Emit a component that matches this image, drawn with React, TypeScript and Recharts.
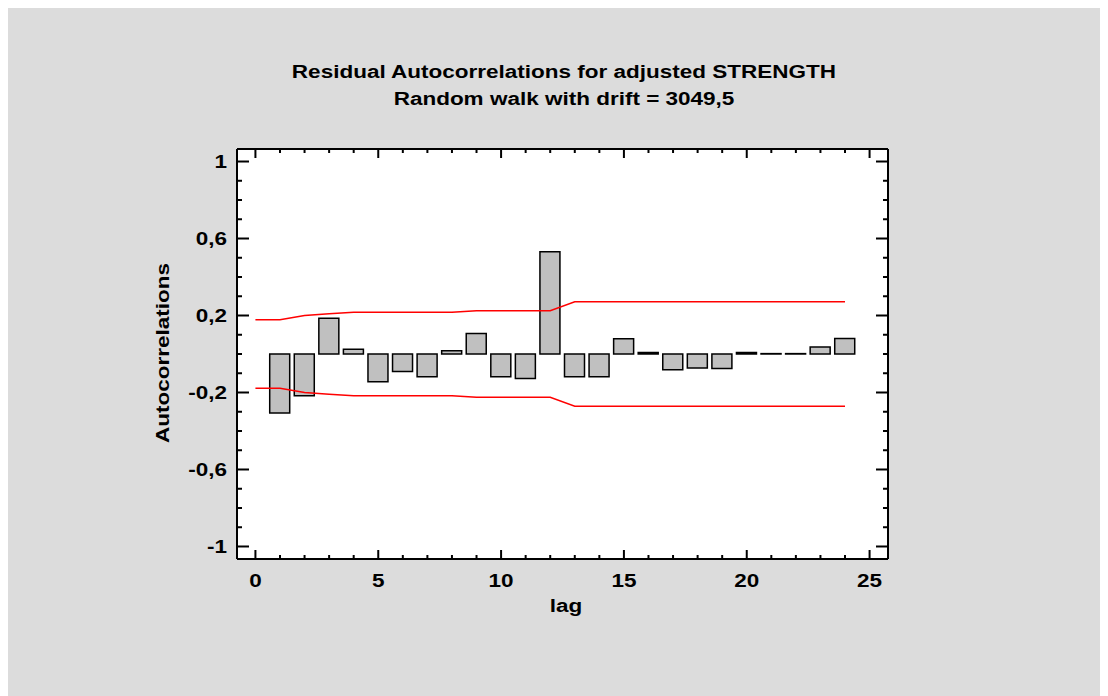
import { ComposedChart, Bar, Line, XAxis, YAxis, CartesianGrid, ReferenceLine } from "recharts";

const lags = [0, 1, 2, 3, 4, 5, 6, 7, 8, 9, 10, 11, 12, 13, 14, 15, 16, 17, 18, 19, 20, 21, 22, 23, 24];
const autocorr = [
  null, -0.307, -0.217, 0.186, 0.025, -0.144, -0.091, -0.118, 0.017, 0.107, -0.118, -0.127, 0.531,
  -0.118, -0.118, 0.079, 0.008, -0.082, -0.073, -0.075, 0.008, 0.002, 0.002, 0.036, 0.081,
];
const upperLimit = [
  0.178, 0.178, 0.2, 0.209, 0.217, 0.217, 0.217, 0.217, 0.217, 0.225, 0.225, 0.225, 0.225,
  0.271, 0.271, 0.271, 0.271, 0.271, 0.271, 0.271, 0.271, 0.271, 0.271, 0.271, 0.271,
];
const lowerLimit = [
  -0.178, -0.178, -0.2, -0.209, -0.217, -0.217, -0.217, -0.217, -0.217, -0.225, -0.225, -0.225, -0.225,
  -0.271, -0.271, -0.271, -0.271, -0.271, -0.271, -0.271, -0.271, -0.271, -0.271, -0.271, -0.271,
];
const xTicks = [0, 1, 2, 3, 4, 5, 6, 7, 8, 9, 10, 11, 12, 13, 14, 15, 16, 17, 18, 19, 20, 21, 22, 23, 24, 25];
const yTicks = [-1, -0.9, -0.8, -0.7, -0.6, -0.5, -0.4, -0.3, -0.2, -0.1, 0, 0.1, 0.2, 0.3, 0.4, 0.5, 0.6, 0.7, 0.8, 0.9, 1];

const X_DOMAIN: [number, number] = [-0.75, 25.75];
const Y_DOMAIN: [number, number] = [-1.065, 1.065];

const W = 1100;
const H = 688;
const MARGIN = { top: 141, right: 220, bottom: 107, left: 169 };
const Y_AXIS_W = 60;
const X_AXIS_H = 30;
const PLOT_W = W - MARGIN.left - MARGIN.right - Y_AXIS_W;
const PLOT_H = H - MARGIN.top - MARGIN.bottom - X_AXIS_H;

const FONT = '"Liberation Sans", Arial, sans-serif';
const FONT_SIZE = 18;
const STRETCH = 1.25; // the original text is drawn wide

const data = lags.map((lag, i) => ({
  lag,
  acf: autocorr[i],
  upper: upperLimit[i],
  lower: lowerLimit[i],
}));

function XTick(props: any) {
  const { x, y, payload } = props;
  const major = payload.value % 5 === 0;
  const len = major ? 9 : 4;
  const top = y - PLOT_H;
  return (
    <g>
      <line x1={x} x2={x} y1={y} y2={y - len} stroke="#000" strokeWidth={2} />
      <line x1={x} x2={x} y1={top} y2={top + len} stroke="#000" strokeWidth={2} />
      {major && (
        <text
          transform={`translate(${x},${y + 28}) scale(${STRETCH},1)`}
          textAnchor="middle"
          fontFamily={FONT}
          fontWeight="bold"
          fontSize={FONT_SIZE}
          fill="#000"
        >
          {payload.value}
        </text>
      )}
    </g>
  );
}

function YTick(props: any) {
  const { x, y, payload } = props;
  const k = Math.round(payload.value * 10);
  const major = (k + 10) % 4 === 0;
  const len = major ? 12 : 5;
  const right = x + PLOT_W;
  return (
    <g>
      <line x1={x} x2={x + len} y1={y} y2={y} stroke="#000" strokeWidth={2} />
      <line x1={right} x2={right - len} y1={y} y2={y} stroke="#000" strokeWidth={2} />
      {major && (
        <text
          transform={`translate(${x - 10},${y + 6.5}) scale(${STRETCH},1)`}
          textAnchor="end"
          fontFamily={FONT}
          fontWeight="bold"
          fontSize={FONT_SIZE}
          fill="#000"
        >
          {String(k / 10).replace(".", ",")}
        </text>
      )}
    </g>
  );
}

export default function App() {
  const textStyle = {
    position: "absolute" as const,
    fontFamily: FONT,
    fontWeight: "bold" as const,
    fontSize: FONT_SIZE,
    color: "#000",
    whiteSpace: "nowrap" as const,
  };
  const centered = {
    ...textStyle,
    left: 0,
    width: W,
    textAlign: "center" as const,
    transform: `translateX(6px) scaleX(${STRETCH})`,
  };
  return (
    <div style={{ position: "relative", width: W, height: H, background: "#dcdcdc" }}>
      <ComposedChart width={W} height={H} data={data} margin={MARGIN}>
        <CartesianGrid fill="#fff" horizontal={false} vertical={false} />
        <XAxis
          dataKey="lag"
          type="number"
          domain={X_DOMAIN}
          ticks={xTicks}
          interval={0}
          allowDataOverflow
          height={X_AXIS_H}
          tickSize={0}
          tickMargin={0}
          tickLine={false}
          tick={<XTick />}
          axisLine={{ stroke: "#000", strokeWidth: 2 }}
        />
        <YAxis
          type="number"
          domain={Y_DOMAIN}
          ticks={yTicks}
          interval={0}
          allowDataOverflow
          width={Y_AXIS_W}
          tickSize={0}
          tickMargin={0}
          tickLine={false}
          tick={<YTick />}
          axisLine={{ stroke: "#000", strokeWidth: 2 }}
        />
        <ReferenceLine y={Y_DOMAIN[1]} stroke="#000" strokeWidth={2} />
        <ReferenceLine x={X_DOMAIN[1]} stroke="#000" strokeWidth={2} />
        <Bar dataKey="acf" barSize={20} fill="#c0c0c0" stroke="#000" strokeWidth={1.5} isAnimationActive={false} />
        <Line dataKey="upper" type="linear" stroke="#ff0000" strokeWidth={1.5} dot={false} isAnimationActive={false} />
        <Line dataKey="lower" type="linear" stroke="#ff0000" strokeWidth={1.5} dot={false} isAnimationActive={false} />
      </ComposedChart>
      <div style={{ ...centered, top: 54 }}>Residual Autocorrelations for adjusted STRENGTH</div>
      <div style={{ ...centered, top: 81 }}>Random walk with drift = 3049,5</div>
      <div style={{ ...centered, top: 588, transform: `translateX(8px) scaleX(${STRETCH})` }}>lag</div>
      <div
        style={{
          ...textStyle,
          left: 155,
          top: 345,
          transform: `translate(-50%, -50%) rotate(-90deg) scaleX(${STRETCH})`,
        }}
      >
        Autocorrelations
      </div>
    </div>
  );
}
